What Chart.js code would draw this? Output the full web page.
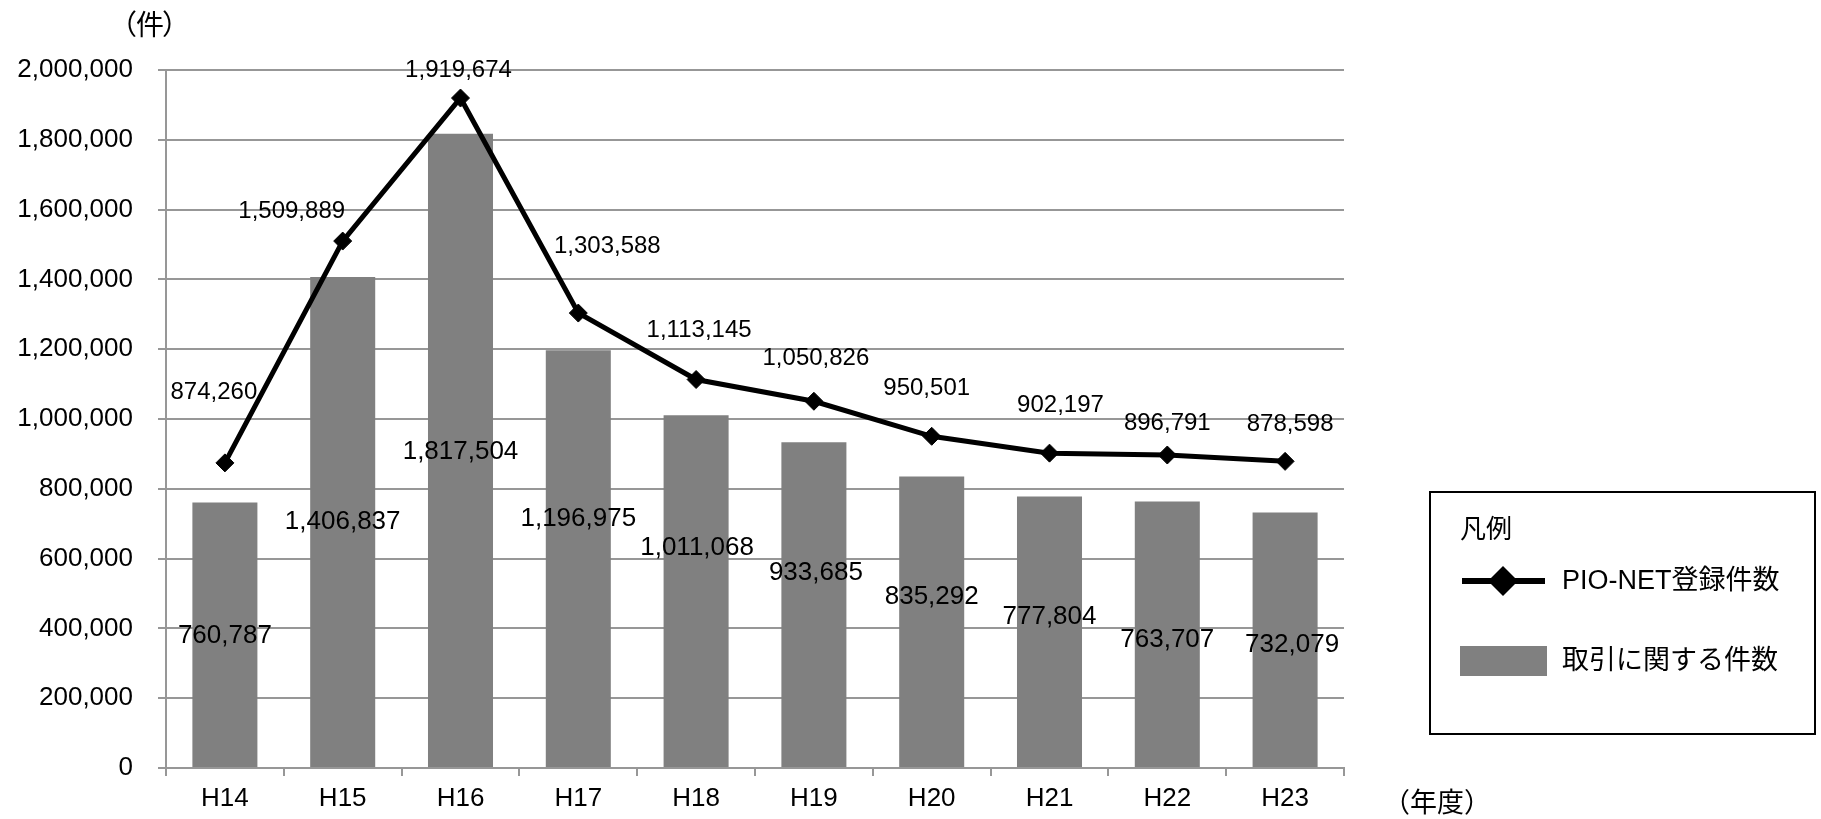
<!DOCTYPE html>
<html lang="ja">
<head>
<meta charset="utf-8">
<title>PIO-NET登録件数の推移</title>
<script src="https://cdn.jsdelivr.net/npm/chart.js@4.4.1/dist/chart.umd.min.js"></script>
<style>
  html, body { margin: 0; padding: 0; background: #ffffff; }
  canvas { display: block; }
</style>
</head>
<body>
<canvas id="chart" width="1821" height="819"></canvas>
<script>
// Fiscal years (平成)
const categories = ['H14', 'H15', 'H16', 'H17', 'H18', 'H19', 'H20', 'H21', 'H22', 'H23'];

// PIO-NET登録件数 (line)
const pioNetCounts = [874260, 1509889, 1919674, 1303588, 1113145, 1050826, 950501, 902197, 896791, 878598];

// 取引に関する件数 (bars)
const tradeCounts = [760787, 1406837, 1817504, 1196975, 1011068, 933685, 835292, 777804, 763707, 732079];

// Value axis ticks
const yTickValues = [0, 200000, 400000, 600000, 800000, 1000000, 1200000, 1400000, 1600000, 1800000, 2000000];

// Series and axis names
const lineSeriesName = 'PIO-NET登録件数';
const barSeriesName = '取引に関する件数';
const legendTitle = '凡例';
const yAxisUnit = '件';
const xAxisUnit = '（年度）';

// Label nudges (px) so value labels sit clear of the line and each other
const lineLabelNudge = [[-11, -71], [-51, -30], [-2, -28], [29, -67], [3, -49], [2, -43], [-5, -48], [11, -48], [0, -32], [5, -37]];
const barLabelNudge = [[0, 1], [0, 0], [0, 1], [0, -40], [1, -43], [2, -32], [0, -25], [0, -15], [0, 6], [7, 5]];

const LATIN = '"Liberation Sans", Arial, sans-serif';
const CJK = '"Liberation Sans", "Noto Sans CJK JP", sans-serif';
const BAR_COLOR = '#808080';
const GRID_COLOR = '#979797';

const fmt = v => v.toLocaleString('en-US');

const valueLabels = {
  id: 'valueLabels',
  afterDatasetsDraw(chart, args, opts) {
    const ctx = chart.ctx;
    ctx.save();
    ctx.fillStyle = '#000';
    ctx.textAlign = 'center';
    ctx.textBaseline = 'middle';
    chart.data.datasets.forEach((ds, i) => {
      const meta = chart.getDatasetMeta(i);
      const cfg = opts.series[i];
      ctx.font = cfg.font;
      meta.data.forEach((el, j) => {
        const x = el.x;
        const y = meta.type === 'bar' ? (el.y + el.base) / 2 : el.y;
        const [dx, dy] = cfg.nudge[j];
        ctx.fillText(fmt(ds.data[j]), x + dx, y + dy);
      });
    });
    ctx.restore();
  }
};

const boxLegend = {
  id: 'boxLegend',
  afterDraw(chart) {
    const ctx = chart.ctx;
    const lineDs = chart.data.datasets[0];
    const barDs = chart.data.datasets[1];
    ctx.save();

    // axis unit captions
    ctx.fillStyle = '#000';
    ctx.textBaseline = 'middle';
    ctx.font = '28px "Noto Sans CJK JP", sans-serif';
    ctx.textAlign = 'center';
    ctx.fillText(yAxisUnit, 150, 24);
    ctx.textAlign = 'right';
    ctx.fillText('（', 137, 24);
    ctx.textAlign = 'left';
    ctx.fillText('）', 162, 24);
    ctx.textAlign = 'center';
    ctx.font = '27px "Noto Sans CJK JP", sans-serif';
    ctx.fillText(xAxisUnit, 1437, 802);

    // legend frame
    ctx.strokeStyle = '#000';
    ctx.lineWidth = 2;
    ctx.strokeRect(1430, 492, 385, 242);

    ctx.textAlign = 'left';
    ctx.font = '26px "Noto Sans CJK JP", sans-serif';
    ctx.fillText(legendTitle, 1460, 528);

    // line entry
    ctx.strokeStyle = lineDs.borderColor;
    ctx.lineWidth = 6;
    ctx.beginPath();
    ctx.moveTo(1462, 581);
    ctx.lineTo(1545, 581);
    ctx.stroke();
    ctx.fillStyle = lineDs.pointBackgroundColor;
    ctx.beginPath();
    ctx.moveTo(1503, 566);
    ctx.lineTo(1518, 581);
    ctx.lineTo(1503, 596);
    ctx.lineTo(1488, 581);
    ctx.closePath();
    ctx.fill();

    // bar entry
    ctx.fillStyle = barDs.backgroundColor;
    ctx.fillRect(1460, 646, 87, 30);

    ctx.fillStyle = '#000';
    ctx.font = '27px ' + CJK;
    ctx.fillText(lineDs.label, 1562, 582);
    ctx.fillText(barDs.label, 1562, 662);
    ctx.restore();
  }
};

new Chart(document.getElementById('chart'), {
  type: 'bar',
  data: {
    labels: categories,
    datasets: [
      {
        type: 'line',
        label: lineSeriesName,
        data: pioNetCounts,
        borderColor: '#000',
        borderWidth: 5,
        pointStyle: 'rectRot',
        pointRadius: 9,
        pointBorderWidth: 1,
        pointBackgroundColor: '#000',
        pointBorderColor: '#000',
        tension: 0,
        order: 0
      },
      {
        type: 'bar',
        label: barSeriesName,
        data: tradeCounts,
        backgroundColor: BAR_COLOR,
        borderWidth: 0,
        barPercentage: 0.552,
        categoryPercentage: 1,
        order: 1
      }
    ]
  },
  options: {
    responsive: false,
    animation: false,
    devicePixelRatio: 1,
    layout: { padding: { left: 0, right: 477, top: 70, bottom: 0 } },
    plugins: {
      legend: { display: false },
      tooltip: { enabled: false },
      valueLabels: {
        series: [
          { font: '24px ' + LATIN, nudge: lineLabelNudge },
          { font: '26px ' + LATIN, nudge: barLabelNudge }
        ]
      }
    },
    scales: {
      x: {
        offset: true,
        grid: {
          display: true,
          offset: true,
          drawOnChartArea: false,
          drawTicks: true,
          tickLength: 8,
          color: GRID_COLOR,
          lineWidth: 2
        },
        border: { display: true, color: GRID_COLOR, width: 2 },
        ticks: {
          color: '#000',
          font: { family: LATIN, size: 26 },
          padding: 7,
          maxRotation: 0
        },
        afterFit(scale) { scale.height = 51; }
      },
      y: {
        min: 0,
        max: 2000000,
        grid: {
          color: GRID_COLOR,
          lineWidth: 2,
          drawTicks: true,
          tickLength: 8
        },
        border: { display: true, color: GRID_COLOR, width: 2 },
        afterBuildTicks(scale) {
          scale.ticks = yTickValues.map(v => ({ value: v }));
        },
        ticks: {
          color: '#000',
          font: { family: LATIN, size: 26 },
          padding: 25,
          callback: v => fmt(v)
        },
        afterFit(scale) { scale.width = 166; }
      }
    }
  },
  plugins: [valueLabels, boxLegend]
});
</script>
</body>
</html>
